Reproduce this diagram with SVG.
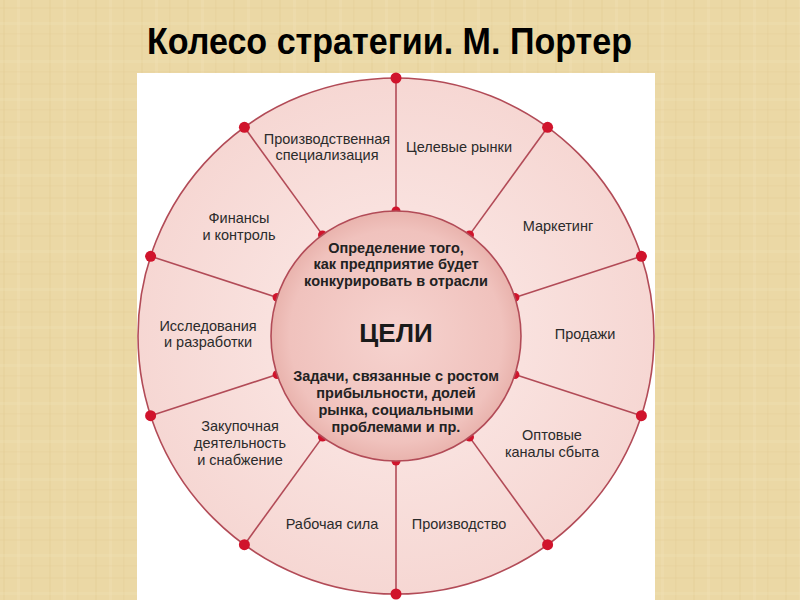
<svg xmlns="http://www.w3.org/2000/svg" width="800" height="600" viewBox="0 0 800 600">
  <defs>
    <pattern id="parch" width="46" height="38" patternUnits="userSpaceOnUse">
      <rect width="46" height="38" fill="#ebd8a5"/>
      <rect x="3" y="0" width="2" height="38" fill="#e3cc93" opacity="0.3"/>
      <rect x="17" y="0" width="3" height="38" fill="#f2e3b9" opacity="0.3"/>
      <rect x="31" y="0" width="1.5" height="38" fill="#e1c98f" opacity="0.25"/>
      <rect x="0" y="7" width="46" height="2" fill="#e4cd95" opacity="0.25"/>
      <rect x="0" y="22" width="46" height="3" fill="#f1e2b8" opacity="0.25"/>
      <rect x="0" y="33" width="46" height="1.5" fill="#e2ca90" opacity="0.2"/>
    </pattern>
    <radialGradient id="outerFill" cx="50%" cy="50%" r="50%">
      <stop offset="0.5" stop-color="#f9e1de"/>
      <stop offset="1" stop-color="#f6d7d3"/>
    </radialGradient>
    <radialGradient id="innerFill" cx="50%" cy="50%" r="50%">
      <stop offset="0" stop-color="#f6d3cf"/>
      <stop offset="0.85" stop-color="#f0c2bd"/>
      <stop offset="1" stop-color="#e9b3ad"/>
    </radialGradient>
  </defs>
  <style>
    .spoke { stroke: #b24b57; stroke-width: 1.6; fill: none; }
    .rim { stroke: #b24b57; stroke-width: 1.6; }
    .dot { fill: #d0142c; }
    .lbl { font-family: "Liberation Sans", Arial, sans-serif; font-size: 14.5px; fill: #2b2b2b; text-anchor: middle; }
    .in { font-family: "Liberation Sans", Arial, sans-serif; font-size: 14.5px; font-weight: bold; fill: #222; text-anchor: middle; }
    .big { font-family: "Liberation Sans", Arial, sans-serif; font-size: 26px; font-weight: bold; fill: #1a1a1a; text-anchor: middle; }
    .title { font-family: "Liberation Sans Narrow", "Arial Narrow", "Liberation Sans", Arial, sans-serif; font-size: 37px; font-weight: bold; fill: #000; }
  </style>

  <rect x="0" y="0" width="800" height="600" fill="url(#parch)"/>
  <rect x="137" y="73" width="518" height="527" fill="#ffffff"/>

  <text class="title" x="147" y="54" textLength="485" lengthAdjust="spacingAndGlyphs">Колесо стратегии. М. Портер</text>

  <g id="wheel">
    <circle cx="396" cy="336" r="258" fill="url(#outerFill)" class="rim"/>
  </g>

  <g id="connectors">
    <line class="spoke" x1="396" y1="78" x2="396" y2="211"/>
    <line class="spoke" x1="547.6" y1="127.3" x2="469.5" y2="234.9"/>
    <line class="spoke" x1="641.4" y1="256.3" x2="514.9" y2="297.4"/>
    <line class="spoke" x1="641.4" y1="415.7" x2="514.9" y2="374.6"/>
    <line class="spoke" x1="547.6" y1="544.7" x2="469.5" y2="437.1"/>
    <line class="spoke" x1="396" y1="594" x2="396" y2="461"/>
    <line class="spoke" x1="244.4" y1="544.7" x2="322.5" y2="437.1"/>
    <line class="spoke" x1="150.6" y1="415.7" x2="277.1" y2="374.6"/>
    <line class="spoke" x1="150.6" y1="256.3" x2="277.1" y2="297.4"/>
    <line class="spoke" x1="244.4" y1="127.3" x2="322.5" y2="234.9"/>
    <g class="dot">
      <circle cx="396" cy="78" r="5.5"/>
      <circle cx="547.6" cy="127.3" r="5.5"/>
      <circle cx="641.4" cy="256.3" r="5.5"/>
      <circle cx="641.4" cy="415.7" r="5.5"/>
      <circle cx="547.6" cy="544.7" r="5.5"/>
      <circle cx="396" cy="594" r="5.5"/>
      <circle cx="244.4" cy="544.7" r="5.5"/>
      <circle cx="150.6" cy="415.7" r="5.5"/>
      <circle cx="150.6" cy="256.3" r="5.5"/>
      <circle cx="244.4" cy="127.3" r="5.5"/>
      <circle cx="396" cy="211" r="4.5"/>
      <circle cx="469.5" cy="234.9" r="4.5"/>
      <circle cx="514.9" cy="297.4" r="4.5"/>
      <circle cx="514.9" cy="374.6" r="4.5"/>
      <circle cx="469.5" cy="437.1" r="4.5"/>
      <circle cx="396" cy="461" r="4.5"/>
      <circle cx="322.5" cy="437.1" r="4.5"/>
      <circle cx="277.1" cy="374.6" r="4.5"/>
      <circle cx="277.1" cy="297.4" r="4.5"/>
      <circle cx="322.5" cy="234.9" r="4.5"/>
    </g>
  </g>

  <g id="center">
    <circle cx="396" cy="336" r="125" fill="url(#innerFill)" class="rim"/>
    <text class="in" x="396" y="253">Определение того,</text>
    <text class="in" x="396" y="269">как предприятие будет</text>
    <text class="in" x="396" y="286">конкурировать в отрасли</text>
    <text class="big" x="396" y="342">ЦЕЛИ</text>
    <text class="in" x="396" y="381">Задачи, связанные с ростом</text>
    <text class="in" x="396" y="398">прибыльности, долей</text>
    <text class="in" x="396" y="415">рынка, социальными</text>
    <text class="in" x="396" y="432">проблемами и пр.</text>
  </g>

  <g id="seg-target-markets"><text class="lbl" x="459" y="152">Целевые рынки</text></g>
  <g id="seg-marketing"><text class="lbl" x="558" y="231">Маркетинг</text></g>
  <g id="seg-sales"><text class="lbl" x="585" y="339">Продажи</text></g>
  <g id="seg-wholesale"><text class="lbl" x="552" y="440">Оптовые</text><text class="lbl" x="552" y="457">каналы сбыта</text></g>
  <g id="seg-production"><text class="lbl" x="459" y="529">Производство</text></g>
  <g id="seg-labor"><text class="lbl" x="332" y="529">Рабочая сила</text></g>
  <g id="seg-procurement"><text class="lbl" x="240" y="431">Закупочная</text><text class="lbl" x="240" y="448">деятельность</text><text class="lbl" x="240" y="465">и снабжение</text></g>
  <g id="seg-rnd"><text class="lbl" x="208" y="331">Исследования</text><text class="lbl" x="208" y="347">и разработки</text></g>
  <g id="seg-finance"><text class="lbl" x="239" y="223">Финансы</text><text class="lbl" x="239" y="240">и контроль</text></g>
  <g id="seg-specialization"><text class="lbl" x="327" y="144">Производственная</text><text class="lbl" x="327" y="160">специализация</text></g>
</svg>
